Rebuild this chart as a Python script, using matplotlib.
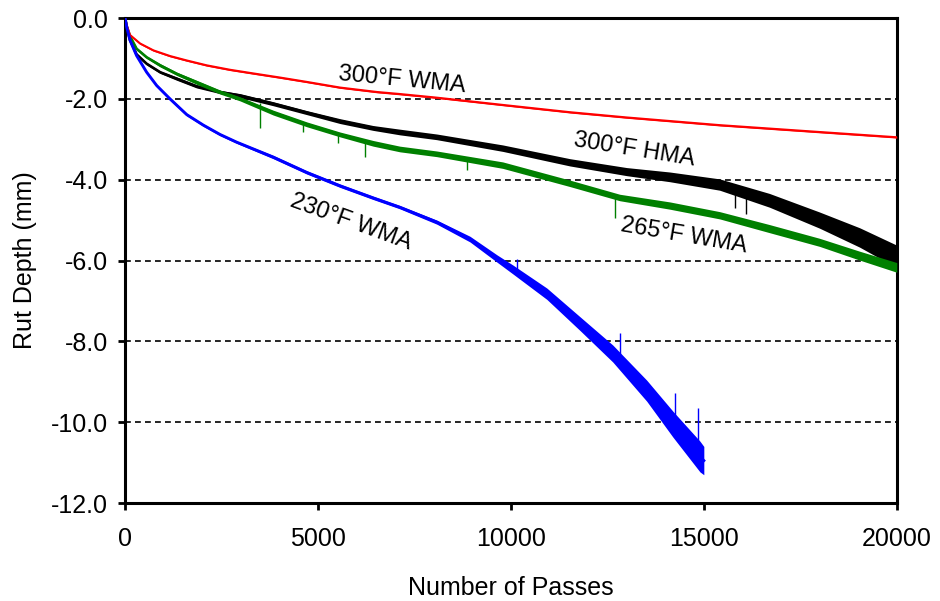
import numpy as np
import matplotlib
matplotlib.use("Agg")
import matplotlib.pyplot as plt

plt.rcParams['font.family'] = ['Liberation Sans', 'DejaVu Sans']
plt.rcParams['axes.unicode_minus'] = False

# 300F WMA (red)
red_x = [0, 50, 130, 390, 735, 1165, 1600, 2115, 2720, 3320, 4000, 4710, 5570, 6530, 7120, 8080,
         9790, 11530, 13000, 15410, 18000, 20000]
red_y = [0, -0.2, -0.42, -0.63, -0.8, -0.94, -1.05, -1.17, -1.28, -1.37, -1.47, -1.58, -1.72, -1.83,
         -1.88, -1.97, -2.15, -2.33, -2.46, -2.65, -2.82, -2.95]
red_spread = [0] + [0.02] * 21

# 300F HMA (black)
blk_x = [0, 50, 130, 300, 560, 910, 1340, 1855, 2460, 2980, 3840, 4710, 5570, 6430, 7120, 8080,
         9790, 11530, 13000, 14120, 15410, 16700, 18000, 19040, 20000]
blk_y = [0, -0.25, -0.55, -0.9, -1.13, -1.34, -1.5, -1.69, -1.83, -1.92, -2.12, -2.34, -2.55, -2.72,
         -2.82, -2.94, -3.22, -3.57, -3.8, -3.93, -4.12, -4.51, -5.0, -5.43, -5.9]
blk_spread = [0, 0.01, 0.02, 0.03, 0.03, 0.03, 0.04, 0.04, 0.04, 0.05, 0.05, 0.05, 0.06, 0.06,
              0.07, 0.07, 0.08, 0.09, 0.1, 0.12, 0.14, 0.17, 0.2, 0.24, 0.28]

# 265F WMA (green)
grn_x = [0, 50, 130, 300, 560, 910, 1340, 1855, 2460, 2980, 3840, 4710, 5570, 6430, 7120, 8080,
         9790, 11530, 12820, 14120, 15410, 16700, 18000, 19040, 20000]
grn_y = [0, -0.22, -0.45, -0.76, -0.97, -1.17, -1.38, -1.59, -1.83, -2.0, -2.34, -2.63, -2.88, -3.1,
         -3.24, -3.36, -3.64, -4.09, -4.44, -4.64, -4.88, -5.21, -5.55, -5.88, -6.17]
grn_spread = [0, 0.01, 0.02, 0.03, 0.03, 0.04, 0.04, 0.05, 0.05, 0.05, 0.06, 0.06, 0.06, 0.07,
              0.07, 0.07, 0.08, 0.08, 0.08, 0.09, 0.09, 0.1, 0.1, 0.11, 0.12]

# 230F WMA (blue)
blu_x = [0, 50, 130, 300, 560, 820, 1165, 1600, 2030, 2460, 2890, 3840, 4710, 5570, 6430, 7120,
         8080, 8940, 9640, 10050, 10930, 11790, 12640, 13520, 14200, 14900, 15000]
blu_y = [0, -0.25, -0.55, -0.93, -1.34, -1.67, -2.0, -2.39, -2.65, -2.88, -3.07, -3.44, -3.82,
         -4.15, -4.45, -4.68, -5.05, -5.47, -5.95, -6.22, -6.82, -7.56, -8.3, -9.22, -10.05, -10.85, -10.95]
blu_spread = [0, 0.01, 0.02, 0.02, 0.03, 0.03, 0.03, 0.03, 0.03, 0.03, 0.03, 0.04, 0.04, 0.04,
              0.04, 0.04, 0.05, 0.07, 0.09, 0.11, 0.14, 0.17, 0.21, 0.26, 0.32, 0.38, 0.35]

# spikes: x, where the trace sits, spike tip
grn_spk_x = [3500, 4610, 5520, 6220, 8860, 12700]
grn_spk_base = [-2.1, -2.6, -2.86, -3.05, -3.5, -4.42]
grn_spk_tip = [-2.73, -2.82, -3.1, -3.44, -3.77, -4.96]

blk_spk_x = [15800, 16100]
blk_spk_base = [-4.3, -4.35]
blk_spk_tip = [-4.7, -4.84]

blu_spk_x = [10150, 12820, 14250, 14840]
blu_spk_base = [-6.3, -8.4, -10.1, -10.8]
blu_spk_tip = [-5.95, -7.79, -9.27, -9.64]

yticks = [0.0, -2.0, -4.0, -6.0, -8.0, -10.0, -12.0]
xticks = [0, 5000, 10000, 15000, 20000]

labels = ["300°F WMA", "300°F HMA", "265°F WMA", "230°F WMA"]
label_xy = [(7175, -1.54), (13210, -3.27), (14480, -5.4), (5850, -5.06)]
label_rot = [-5.5, -9.2, -9.7, -20]


def draw_trace(ax, x, y, spread, color, lw, z):
    x = np.asarray(x, float)
    y = np.asarray(y, float)
    s = np.asarray(spread, float)
    ax.fill_between(x, y - s, y + s, color=color, lw=0, zorder=z)
    ax.plot(x, y, color=color, lw=lw, zorder=z, solid_joinstyle='round')


fig = plt.figure(figsize=(9.4, 6.01), dpi=100)
ax = fig.add_axes([0.133, 0.163, 0.821, 0.807])

draw_trace(ax, blk_x, blk_y, blk_spread, 'black', 1.9, 3)
ax.vlines(blk_spk_x, blk_spk_base, blk_spk_tip, color='black', lw=1.0, zorder=3)
draw_trace(ax, grn_x, grn_y, grn_spread, '#008000', 1.9, 4)
ax.vlines(grn_spk_x, grn_spk_base, grn_spk_tip, color='#008000', lw=1.0, zorder=4)
draw_trace(ax, red_x, red_y, red_spread, '#ff0000', 1.5, 5)
draw_trace(ax, blu_x, blu_y, blu_spread, '#0000ff', 2.1, 5)
ax.vlines(blu_spk_x, blu_spk_base, blu_spk_tip, color='#0000ff', lw=1.0, zorder=5)

for txt, (tx, ty), rot in zip(labels, label_xy, label_rot):
    ax.text(tx, ty, txt, fontsize=17, rotation=rot, ha='center', va='center',
            rotation_mode='anchor', zorder=6)

ax.set_xlim(0, 20000)
ax.set_ylim(-12, 0)
ax.set_xticks(xticks)
ax.set_yticks(yticks)
ax.set_yticklabels([f"{v:.1f}" for v in yticks])
ax.grid(axis='y', color='black', lw=1.2, ls=(0, (3.5, 2.5)), zorder=1)
ax.set_axisbelow(True)

for sp in ax.spines.values():
    sp.set_linewidth(2.2)
ax.tick_params(direction='out', length=5, width=2, labelsize=18)
ax.tick_params(axis='x', pad=12)
ax.tick_params(axis='y', pad=7)

ax.set_xlabel("Number of Passes", fontsize=18, labelpad=18)
ax.set_ylabel("Rut Depth (mm)", fontsize=18, labelpad=10)

fig.savefig("out.png", dpi=100)
